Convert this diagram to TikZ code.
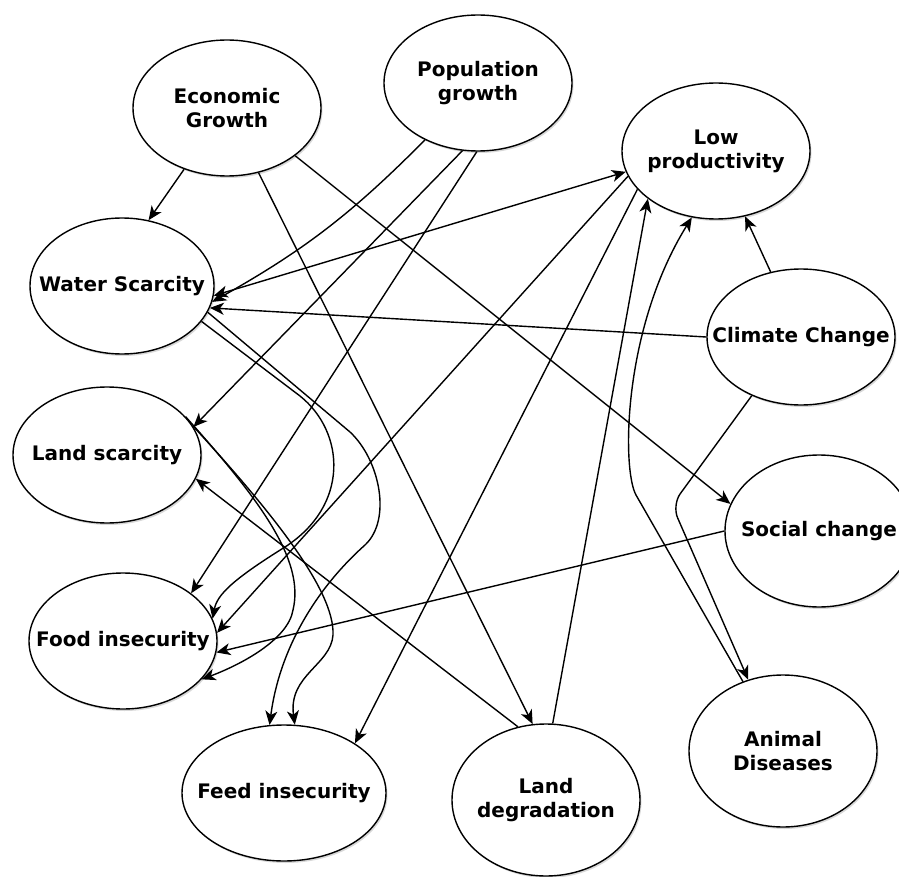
\documentclass[tikz,border=0pt]{standalone}
\usepackage{fontspec}
\setmainfont{DejaVu Sans}
\usetikzlibrary{shapes.geometric,arrows.meta,shadows}

\begin{document}
\begin{tikzpicture} [
        x = 1pt, y = -1pt,
        line width = 1.4pt,
        > = {Stealth[length=14pt, width=12pt, inset=4pt]},
        blob/.style = {ellipse, draw, fill=white, inner sep=0pt,
                       minimum width=188pt, minimum height=136pt,
                       drop shadow={shadow xshift=1.5pt, shadow yshift=-2pt,
                                    fill=black!30}},
        tall/.style = {minimum height=152pt},
        lbl/.style = {align=center, inner sep=0pt,
                      font=\fontsize{20}{24}\selectfont\bfseries}
    ]
    \useasboundingbox (0,0) rectangle (899,877);

    % causes and effects
    \node[blob, label={[lbl]center:Economic\\Growth}] (Econ) at (227,108) {};
    \node[blob, label={[lbl]center:Population\\growth}] (Pop) at (478,83) {};
    \node[blob, label={[lbl]center:Low\\productivity}] (LowProd) at (716,151) {};
    \node[blob, minimum width=184pt, label={[lbl]center:Water Scarcity}] (Water) at (122,286) {};
    \node[blob, label={[lbl]center:Climate Change}] (Climate) at (801,337) {};
    \node[blob, label={[lbl]center:Land scarcity}] (LandSc) at (107,455) {};
    \node[blob, tall, label={[lbl]center:Social change}] (Social) at (819,531) {};
    \node[blob, label={[lbl]center:Food insecurity}] (Food) at (123,641) {};
    \node[blob, minimum width=204pt, label={[lbl]center:Feed insecurity}] (Feed) at (284,793) {};
    \node[blob, tall, label={[lbl]center:Land\\degradation}] (LandDeg) at (546,800) {};
    \node[blob, tall, label={[lbl]center:Animal\\Diseases}] (Anim) at (783,751) {};

    % straight links
    \draw[->] (Econ.235) -- (Water.68);
    \draw[->] (Econ.-64) -- (LandDeg.100);
    \draw[->] (Econ.-35) -- (Social.163);
    \draw[->] (Pop.227) to[bend left=8] (Water.-10);
    \draw[->] (Pop.257) -- (LandSc.18);
    \draw[->] (Pop.269) -- (Food.35);
    \draw[<->] (Water.-6) -- (LowProd.193);
    \draw[->] (Climate.west) -- (Water.-14);
    \draw[->] (Climate.115) -- (LowProd.-66);
    \draw[->] (LandDeg.85) -- (LowProd.215);
    \draw[->] (LowProd.206) -- (Feed.35);
    \draw[->] (LowProd.196) -- (Food.5);
    \draw[->] (Social.west) -- (Food.-7);
    \draw[->] (LandDeg.111) -- (LandSc.-15);

    % curved links
    \draw[->, rounded corners=14pt] (Climate.230) -- (672,505) -- (Anim.116);
    \draw[->] (Anim.120) -- (636,495) .. controls (622,470) and (622,330) .. (LowProd.250);
    \draw[->] (Water.-24) -- (300,396) .. controls (345,432) and (350,505) .. (285,547)
              .. controls (232,580) and (217,595) .. (Food.14);
    \draw[->] (Water.-17) -- (350,432) .. controls (380,460) and (392,520) .. (365,545)
              .. controls (320,585) and (280,645) .. (Feed.102);
    \draw[->] (LandSc.26) .. controls (260,500) and (305,560) .. (293,610)
              .. controls (288,640) and (240,665) .. (Food.-26);
    \draw[->] (LandSc.19) .. controls (270,510) and (335,590) .. (333,635)
              .. controls (331,665) and (288,675) .. (Feed.81);

\end{tikzpicture}
\end{document}
